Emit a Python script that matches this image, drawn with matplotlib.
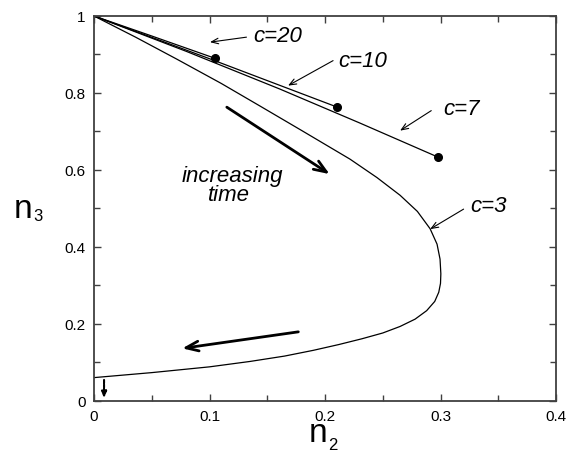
import matplotlib
matplotlib.use("Agg")
import matplotlib.pyplot as plt

plt.rcParams['font.family'] = ['Liberation Sans', 'DejaVu Sans']

# c=3 trajectory
c3_n2 = [0.0, 0.036, 0.0716, 0.11, 0.1437, 0.18, 0.2216, 0.245, 0.265, 0.28,
         0.291, 0.297, 0.2996, 0.3003, 0.3, 0.2985, 0.295, 0.288, 0.278, 0.265,
         0.25, 0.232, 0.212, 0.19, 0.165, 0.135, 0.10, 0.05, 0.0]
c3_n3 = [1.0, 0.945, 0.888, 0.825, 0.766, 0.702, 0.628, 0.580, 0.534, 0.492,
         0.447, 0.407, 0.368, 0.33, 0.305, 0.282, 0.258, 0.234, 0.212, 0.193,
         0.176, 0.161, 0.146, 0.131, 0.116, 0.102, 0.088, 0.073, 0.060]

# c=7, c=10, c=20 trajectories
c7_n2 = [0.0, 0.08, 0.161, 0.23, 0.298]
c7_n3 = [1.0, 0.908, 0.810, 0.722, 0.633]
c10_n2 = [0.0, 0.10, 0.2107]
c10_n3 = [1.0, 0.889, 0.763]
c20_n2 = [0.0, 0.05, 0.1048]
c20_n3 = [1.0, 0.948, 0.890]

# end points (dots)
dot_n2 = [0.1048, 0.2107, 0.298]
dot_n3 = [0.890, 0.763, 0.633]

labels = ["c=20", "c=10", "c=7", "c=3"]
label_xy = [(0.1377, 0.935), (0.2113, 0.871), (0.302, 0.745), (0.3255, 0.494)]
arrow_from = [(0.132, 0.945), (0.207, 0.884), (0.292, 0.754), (0.320, 0.498)]
arrow_to = [(0.1004, 0.932), (0.168, 0.819), (0.265, 0.702), (0.291, 0.446)]

xticks = [0, 0.1, 0.2, 0.3, 0.4]
xticklabels = ["0", "0.1", "0.2", "0.3", "0.4"]
yticks = [0, 0.2, 0.4, 0.6, 0.8, 1.0]
yticklabels = ["0", "0.2", "0.4", "0.6", "0.8", "1"]

fig = plt.figure(figsize=(5.68, 4.52), dpi=100)
ax = fig.add_axes([94/568, 1 - 401.7/452, (556-94)/568, (401.7-17)/452])

lw = 0.9
ax.plot(c3_n2, c3_n3, color='black', lw=lw, solid_joinstyle='round')
ax.plot(c7_n2, c7_n3, color='black', lw=lw)
ax.plot(c10_n2, c10_n3, color='black', lw=lw)
ax.plot(c20_n2, c20_n3, color='black', lw=lw)
ax.plot(dot_n2, dot_n3, 'o', color='black', ms=5.5, ls='none')

for lab, xy, af, at in zip(labels, label_xy, arrow_from, arrow_to):
    ax.text(xy[0], xy[1], lab, fontsize=16, style='italic', ha='left', va='baseline')
    ax.annotate("", xy=at, xytext=af,
                arrowprops=dict(arrowstyle="->,head_length=0.5,head_width=0.2",
                                color='black', lw=0.8, shrinkA=0, shrinkB=0))

# thick time arrows
ax.annotate("", xy=(0.204, 0.589), xytext=(0.115, 0.763),
            arrowprops=dict(arrowstyle="->,head_length=0.9,head_width=0.35",
                            color='black', lw=2.0, shrinkA=0, shrinkB=0))
ax.annotate("", xy=(0.0764, 0.136), xytext=(0.1769, 0.179),
            arrowprops=dict(arrowstyle="->,head_length=0.9,head_width=0.35",
                            color='black', lw=2.0, shrinkA=0, shrinkB=0))
ax.annotate("", xy=(0.0087, 0.007), xytext=(0.0087, 0.054),
            arrowprops=dict(arrowstyle="-|>,head_length=0.35,head_width=0.15",
                            color='black', lw=1.5, ls=(0, (1.5, 0.7)), shrinkA=0, shrinkB=0))

ax.text(0.1199, 0.570, "increasing", fontsize=16, style='italic', ha='center', va='baseline')
ax.text(0.1173, 0.522, "time", fontsize=16, style='italic', ha='center', va='baseline')

ax.set_xlim(0, 0.4)
ax.set_ylim(0, 1)
ax.set_xticks(xticks)
ax.set_xticklabels(xticklabels)
ax.set_yticks(yticks)
ax.set_yticklabels(yticklabels)
ax.set_xticks([0.05, 0.15, 0.25, 0.35], minor=True)
ax.set_yticks([0.1, 0.3, 0.5, 0.7, 0.9], minor=True)
ax.tick_params(which='both', direction='in', top=True, right=True, color='#404040', width=1.0)
ax.tick_params(which='major', length=5, labelsize=11, pad=6)
ax.tick_params(which='minor', length=4)
for s in ax.spines.values():
    s.set_color('#404040')
    s.set_linewidth(1.3)

# axis labels with subscripts
fig.text(14/568, 1 - 218.3/452, "n", fontsize=24, ha='left', va='baseline')
fig.text(33.5/568, 1 - 221/452, "3", fontsize=12, ha='left', va='baseline')
fig.text(308.3/568, 1 - 441.7/452, "n", fontsize=24, ha='left', va='baseline')
fig.text(328.5/568, 1 - 450/452, "2", fontsize=12, ha='left', va='baseline')

fig.savefig("out.png", dpi=100, facecolor='white')
